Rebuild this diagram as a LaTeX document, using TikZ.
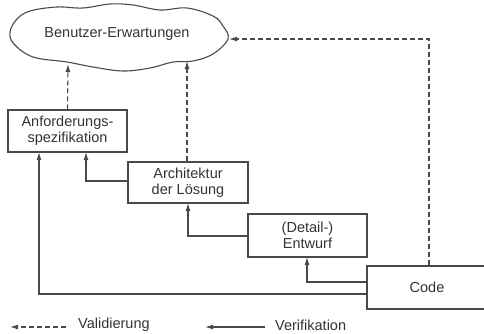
\documentclass[tikz,border=0pt]{standalone}
\usepackage{fontspec}
\setmainfont{Liberation Sans}
\usetikzlibrary{arrows.meta}
\definecolor{ln}{HTML}{4A4A4A}
\definecolor{tx}{HTML}{333333}
\begin{document}
\begin{tikzpicture}[x=1pt,y=-1pt,
  box/.style={draw=ln,line width=1.1pt,rectangle,inner sep=0pt,text=tx,align=center,font=\fontsize{14.5}{16}\selectfont},
  lbl/.style={text=tx,font=\fontsize{14.5}{16}\selectfont,inner sep=0pt},
  verif/.style={draw=ln,line width=1.1pt,-{Latex[length=8pt,width=5pt]}},
  valid/.style={draw=ln,line width=1.1pt,dash pattern=on 5pt off 3pt,-{Latex[length=8pt,width=5pt]}}]
\useasboundingbox (0,0) rectangle (484,333);
% cloud
\draw[ln,line width=1.1pt] plot[smooth cycle,tension=0.6] coordinates{
 (10,32) (14,44) (33,57) (67,62) (93,67) (123,71) (150,68) (173,62) (193,61) (213,54) (228,39)
 (223,26) (213,16) (187,8) (160,10) (133,5) (110,4) (83,8) (57,7) (30,11) (17,19)};
\node[lbl] (cloud) at (117,34) {Benutzer-Erwartungen};
\coordinate (c1) at (68,64);
\coordinate (c2) at (187,61);
\coordinate (c3) at (229,39);
% boxes
\node[box,minimum width=119pt,minimum height=42pt] (anf) at (67.5,131) {Anforderungs-\\spezifikation};
\node[box,minimum width=120pt,minimum height=41pt] (arc) at (188,182.5) {Architektur\\der Lösung};
\node[box,minimum width=119pt,minimum height=43pt] (ent) at (307.5,235.5) {(Detail-)\\Entwurf};
\node[box,minimum width=120pt,minimum height=43pt,text width=100pt] (code) at (427,287.5) {Code};
% validation
\draw[valid] (anf.north) -- (c1);
\draw[valid] (arc.north -| c2) -- (c2);
\draw[valid] (code.north -| 429,0) |- (c3);
% verification
\draw[verif] (arc.west |- 0,181) -| (86,152);
\draw[verif] (ent.west |- 0,236) -| (188,203);
\draw[verif] (code.west |- 0,282) -| (307,257);
\draw[verif] (code.west |- 0,294) -| (39,152);
% legend
\coordinate (l1a) at (66,327); \coordinate (l1b) at (10,327);
\coordinate (l2a) at (265,327); \coordinate (l2b) at (205,327);
\draw[valid] (l1a) -- (l1b);
\draw[verif] (l2a) -- (l2b);
\node[lbl,anchor=west] (v1) at (78,325) {Validierung};
\node[lbl,anchor=west] (v2) at (275,325) {Verifikation};
\end{tikzpicture}
\end{document}
